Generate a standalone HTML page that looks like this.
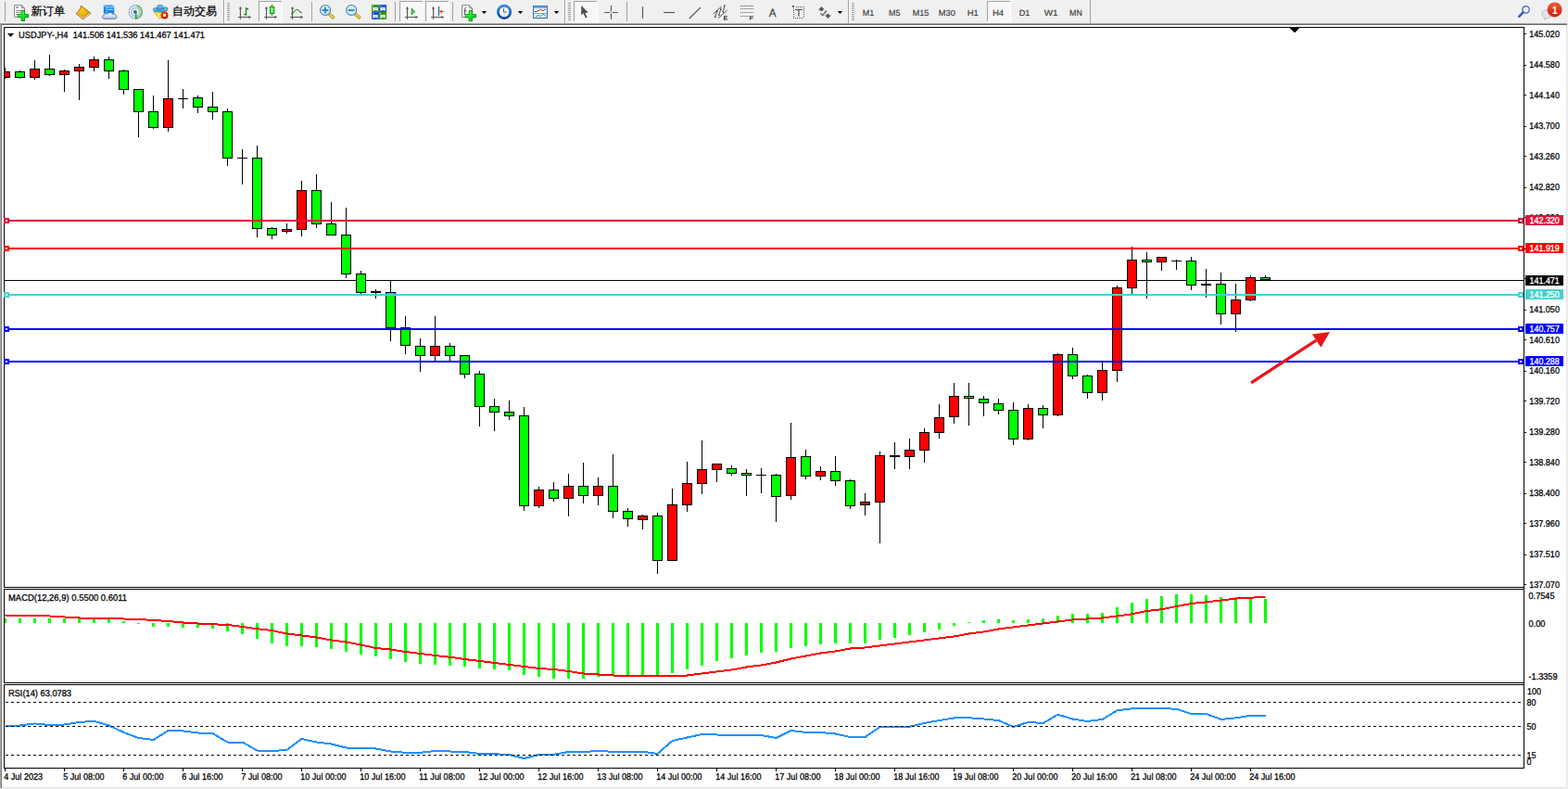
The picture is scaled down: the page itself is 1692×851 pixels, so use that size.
<!DOCTYPE html>
<html><head><meta charset="utf-8"><title>USDJPY-,H4</title>
<style>
html,body{margin:0;padding:0;width:1692px;height:851px;overflow:hidden;background:#f0f0f0;font-family:"Liberation Sans",sans-serif}
svg{position:absolute;left:0;top:0;display:block}
text{font-family:"Liberation Sans",sans-serif;text-rendering:geometricPrecision}
</style></head><body>
<svg width="1692" height="851" viewBox="0 0 1692 851">
<g shape-rendering="crispEdges"><rect x="0" y="0" width="1692" height="851" fill="#f0f0f0"/><rect x="0" y="25" width="1691" height="1" fill="#a0a0a0"/><rect x="0" y="26" width="1691" height="1" fill="#696969"/><rect x="2" y="27" width="1688" height="822" fill="#ffffff"/><rect x="0" y="26" width="1" height="824" fill="#a8a8a8"/><rect x="1" y="26" width="1" height="824" fill="#7c7c7c"/><rect x="1690" y="27" width="1" height="823" fill="#e3e3e3"/><rect x="2" y="849" width="1689" height="1" fill="#e3e3e3"/><rect x="4" y="29" width="1641" height="1" fill="#000000"/><rect x="4" y="29" width="1" height="605" fill="#000000"/><rect x="4" y="633" width="1641" height="1" fill="#000000"/><rect x="4" y="635" width="1641" height="1" fill="#000000"/><rect x="4" y="635" width="1" height="102" fill="#000000"/><rect x="4" y="736" width="1641" height="1" fill="#000000"/><rect x="4" y="738" width="1641" height="1" fill="#000000"/><rect x="4" y="738" width="1" height="91" fill="#000000"/><rect x="4" y="828" width="1641" height="1" fill="#000000"/><rect x="1644" y="29" width="1" height="800" fill="#000000"/><rect x="5" y="302" width="1639" height="1" fill="#000000"/><rect x="5" y="73" width="1" height="12" fill="#000000"/><rect x="5" y="77" width="6" height="7" fill="#000000"/><rect x="5" y="78" width="5" height="5" fill="#ff0000"/><rect x="21" y="76" width="1" height="9" fill="#000000"/><rect x="16" y="77" width="11" height="7" fill="#000000"/><rect x="17" y="78" width="9" height="5" fill="#00ff00"/><rect x="37" y="65" width="1" height="21" fill="#000000"/><rect x="32" y="74" width="11" height="10" fill="#000000"/><rect x="33" y="75" width="9" height="8" fill="#ff0000"/><rect x="53" y="59" width="1" height="23" fill="#000000"/><rect x="48" y="74" width="11" height="7" fill="#000000"/><rect x="49" y="75" width="9" height="5" fill="#00ff00"/><rect x="69" y="75" width="1" height="24" fill="#000000"/><rect x="64" y="76" width="11" height="5" fill="#000000"/><rect x="65" y="77" width="9" height="3" fill="#ff0000"/><rect x="85" y="69" width="1" height="39" fill="#000000"/><rect x="80" y="72" width="11" height="5" fill="#000000"/><rect x="81" y="73" width="9" height="3" fill="#ff0000"/><rect x="101" y="61" width="1" height="16" fill="#000000"/><rect x="96" y="64" width="11" height="9" fill="#000000"/><rect x="97" y="65" width="9" height="7" fill="#ff0000"/><rect x="117" y="61" width="1" height="24" fill="#000000"/><rect x="112" y="64" width="11" height="13" fill="#000000"/><rect x="113" y="65" width="9" height="11" fill="#00ff00"/><rect x="133" y="75" width="1" height="27" fill="#000000"/><rect x="128" y="76" width="11" height="21" fill="#000000"/><rect x="129" y="77" width="9" height="19" fill="#00ff00"/><rect x="149" y="96" width="1" height="52" fill="#000000"/><rect x="144" y="96" width="11" height="25" fill="#000000"/><rect x="145" y="97" width="9" height="23" fill="#00ff00"/><rect x="165" y="103" width="1" height="36" fill="#000000"/><rect x="160" y="120" width="11" height="18" fill="#000000"/><rect x="161" y="121" width="9" height="16" fill="#00ff00"/><rect x="181" y="65" width="1" height="77" fill="#000000"/><rect x="176" y="106" width="11" height="32" fill="#000000"/><rect x="177" y="107" width="9" height="30" fill="#ff0000"/><rect x="197" y="96" width="1" height="21" fill="#000000"/><rect x="192" y="106" width="11" height="1" fill="#000000"/><rect x="213" y="103" width="1" height="19" fill="#000000"/><rect x="208" y="105" width="11" height="11" fill="#000000"/><rect x="209" y="106" width="9" height="9" fill="#00ff00"/><rect x="229" y="99" width="1" height="30" fill="#000000"/><rect x="224" y="115" width="11" height="6" fill="#000000"/><rect x="225" y="116" width="9" height="4" fill="#00ff00"/><rect x="245" y="117" width="1" height="62" fill="#000000"/><rect x="240" y="120" width="11" height="51" fill="#000000"/><rect x="241" y="121" width="9" height="49" fill="#00ff00"/><rect x="261" y="161" width="1" height="38" fill="#000000"/><rect x="256" y="170" width="11" height="1" fill="#000000"/><rect x="277" y="157" width="1" height="99" fill="#000000"/><rect x="272" y="170" width="11" height="77" fill="#000000"/><rect x="273" y="171" width="9" height="75" fill="#00ff00"/><rect x="293" y="245" width="1" height="13" fill="#000000"/><rect x="288" y="246" width="11" height="8" fill="#000000"/><rect x="289" y="247" width="9" height="6" fill="#00ff00"/><rect x="309" y="241" width="1" height="11" fill="#000000"/><rect x="304" y="247" width="11" height="3" fill="#000000"/><rect x="305" y="248" width="9" height="1" fill="#ff0000"/><rect x="325" y="195" width="1" height="60" fill="#000000"/><rect x="320" y="205" width="11" height="43" fill="#000000"/><rect x="321" y="206" width="9" height="41" fill="#ff0000"/><rect x="341" y="188" width="1" height="58" fill="#000000"/><rect x="336" y="205" width="11" height="37" fill="#000000"/><rect x="337" y="206" width="9" height="35" fill="#00ff00"/><rect x="357" y="218" width="1" height="36" fill="#000000"/><rect x="352" y="241" width="11" height="13" fill="#000000"/><rect x="353" y="242" width="9" height="11" fill="#00ff00"/><rect x="373" y="224" width="1" height="76" fill="#000000"/><rect x="368" y="253" width="11" height="43" fill="#000000"/><rect x="369" y="254" width="9" height="41" fill="#00ff00"/><rect x="389" y="292" width="1" height="25" fill="#000000"/><rect x="384" y="295" width="11" height="21" fill="#000000"/><rect x="385" y="296" width="9" height="19" fill="#00ff00"/><rect x="405" y="312" width="1" height="10" fill="#000000"/><rect x="400" y="314" width="11" height="2" fill="#000000"/><rect x="421" y="302" width="1" height="66" fill="#000000"/><rect x="416" y="315" width="11" height="39" fill="#000000"/><rect x="417" y="316" width="9" height="37" fill="#00ff00"/><rect x="437" y="341" width="1" height="41" fill="#000000"/><rect x="432" y="353" width="11" height="20" fill="#000000"/><rect x="433" y="354" width="9" height="18" fill="#00ff00"/><rect x="453" y="365" width="1" height="36" fill="#000000"/><rect x="448" y="373" width="11" height="11" fill="#000000"/><rect x="449" y="374" width="9" height="9" fill="#00ff00"/><rect x="469" y="341" width="1" height="48" fill="#000000"/><rect x="464" y="373" width="11" height="11" fill="#000000"/><rect x="465" y="374" width="9" height="9" fill="#ff0000"/><rect x="485" y="370" width="1" height="19" fill="#000000"/><rect x="480" y="373" width="11" height="11" fill="#000000"/><rect x="481" y="374" width="9" height="9" fill="#00ff00"/><rect x="501" y="383" width="1" height="25" fill="#000000"/><rect x="496" y="383" width="11" height="21" fill="#000000"/><rect x="497" y="384" width="9" height="19" fill="#00ff00"/><rect x="517" y="400" width="1" height="60" fill="#000000"/><rect x="512" y="403" width="11" height="36" fill="#000000"/><rect x="513" y="404" width="9" height="34" fill="#00ff00"/><rect x="533" y="430" width="1" height="35" fill="#000000"/><rect x="528" y="438" width="11" height="7" fill="#000000"/><rect x="529" y="439" width="9" height="5" fill="#00ff00"/><rect x="549" y="432" width="1" height="21" fill="#000000"/><rect x="544" y="444" width="11" height="5" fill="#000000"/><rect x="545" y="445" width="9" height="3" fill="#00ff00"/><rect x="565" y="439" width="1" height="112" fill="#000000"/><rect x="560" y="448" width="11" height="98" fill="#000000"/><rect x="561" y="449" width="9" height="96" fill="#00ff00"/><rect x="581" y="525" width="1" height="23" fill="#000000"/><rect x="576" y="528" width="11" height="18" fill="#000000"/><rect x="577" y="529" width="9" height="16" fill="#ff0000"/><rect x="597" y="520" width="1" height="21" fill="#000000"/><rect x="592" y="528" width="11" height="10" fill="#000000"/><rect x="593" y="529" width="9" height="8" fill="#00ff00"/><rect x="613" y="511" width="1" height="46" fill="#000000"/><rect x="608" y="524" width="11" height="14" fill="#000000"/><rect x="609" y="525" width="9" height="12" fill="#ff0000"/><rect x="629" y="499" width="1" height="44" fill="#000000"/><rect x="624" y="524" width="11" height="11" fill="#000000"/><rect x="625" y="525" width="9" height="9" fill="#00ff00"/><rect x="645" y="515" width="1" height="30" fill="#000000"/><rect x="640" y="524" width="11" height="11" fill="#000000"/><rect x="641" y="525" width="9" height="9" fill="#ff0000"/><rect x="661" y="490" width="1" height="69" fill="#000000"/><rect x="656" y="524" width="11" height="28" fill="#000000"/><rect x="657" y="525" width="9" height="26" fill="#00ff00"/><rect x="677" y="548" width="1" height="20" fill="#000000"/><rect x="672" y="551" width="11" height="9" fill="#000000"/><rect x="673" y="552" width="9" height="7" fill="#00ff00"/><rect x="693" y="555" width="1" height="16" fill="#000000"/><rect x="688" y="556" width="11" height="5" fill="#000000"/><rect x="689" y="557" width="9" height="3" fill="#ff0000"/><rect x="709" y="553" width="1" height="66" fill="#000000"/><rect x="704" y="556" width="11" height="49" fill="#000000"/><rect x="705" y="557" width="9" height="47" fill="#00ff00"/><rect x="725" y="527" width="1" height="78" fill="#000000"/><rect x="720" y="544" width="11" height="61" fill="#000000"/><rect x="721" y="545" width="9" height="59" fill="#ff0000"/><rect x="741" y="498" width="1" height="54" fill="#000000"/><rect x="736" y="521" width="11" height="24" fill="#000000"/><rect x="737" y="522" width="9" height="22" fill="#ff0000"/><rect x="757" y="475" width="1" height="58" fill="#000000"/><rect x="752" y="506" width="11" height="16" fill="#000000"/><rect x="753" y="507" width="9" height="14" fill="#ff0000"/><rect x="773" y="500" width="1" height="20" fill="#000000"/><rect x="768" y="500" width="11" height="7" fill="#000000"/><rect x="769" y="501" width="9" height="5" fill="#ff0000"/><rect x="789" y="502" width="1" height="11" fill="#000000"/><rect x="784" y="505" width="11" height="6" fill="#000000"/><rect x="785" y="506" width="9" height="4" fill="#00ff00"/><rect x="805" y="506" width="1" height="29" fill="#000000"/><rect x="800" y="510" width="11" height="3" fill="#000000"/><rect x="801" y="511" width="9" height="1" fill="#00ff00"/><rect x="821" y="505" width="1" height="27" fill="#000000"/><rect x="816" y="512" width="11" height="1" fill="#000000"/><rect x="837" y="511" width="1" height="52" fill="#000000"/><rect x="832" y="512" width="11" height="24" fill="#000000"/><rect x="833" y="513" width="9" height="22" fill="#00ff00"/><rect x="853" y="456" width="1" height="83" fill="#000000"/><rect x="848" y="493" width="11" height="42" fill="#000000"/><rect x="849" y="494" width="9" height="40" fill="#ff0000"/><rect x="869" y="485" width="1" height="32" fill="#000000"/><rect x="864" y="492" width="11" height="22" fill="#000000"/><rect x="865" y="493" width="9" height="20" fill="#00ff00"/><rect x="885" y="503" width="1" height="15" fill="#000000"/><rect x="880" y="508" width="11" height="6" fill="#000000"/><rect x="881" y="509" width="9" height="4" fill="#ff0000"/><rect x="901" y="492" width="1" height="32" fill="#000000"/><rect x="896" y="508" width="11" height="11" fill="#000000"/><rect x="897" y="509" width="9" height="9" fill="#00ff00"/><rect x="917" y="517" width="1" height="32" fill="#000000"/><rect x="912" y="518" width="11" height="28" fill="#000000"/><rect x="913" y="519" width="9" height="26" fill="#00ff00"/><rect x="933" y="532" width="1" height="24" fill="#000000"/><rect x="928" y="541" width="11" height="4" fill="#000000"/><rect x="929" y="542" width="9" height="2" fill="#ff0000"/><rect x="949" y="487" width="1" height="99" fill="#000000"/><rect x="944" y="491" width="11" height="51" fill="#000000"/><rect x="945" y="492" width="9" height="49" fill="#ff0000"/><rect x="965" y="477" width="1" height="29" fill="#000000"/><rect x="960" y="491" width="11" height="2" fill="#000000"/><rect x="981" y="473" width="1" height="33" fill="#000000"/><rect x="976" y="485" width="11" height="8" fill="#000000"/><rect x="977" y="486" width="9" height="6" fill="#ff0000"/><rect x="997" y="462" width="1" height="37" fill="#000000"/><rect x="992" y="466" width="11" height="20" fill="#000000"/><rect x="993" y="467" width="9" height="18" fill="#ff0000"/><rect x="1013" y="436" width="1" height="37" fill="#000000"/><rect x="1008" y="450" width="11" height="17" fill="#000000"/><rect x="1009" y="451" width="9" height="15" fill="#ff0000"/><rect x="1029" y="413" width="1" height="44" fill="#000000"/><rect x="1024" y="427" width="11" height="23" fill="#000000"/><rect x="1025" y="428" width="9" height="21" fill="#ff0000"/><rect x="1045" y="413" width="1" height="46" fill="#000000"/><rect x="1040" y="427" width="11" height="3" fill="#000000"/><rect x="1041" y="428" width="9" height="1" fill="#00ff00"/><rect x="1061" y="427" width="1" height="22" fill="#000000"/><rect x="1056" y="430" width="11" height="5" fill="#000000"/><rect x="1057" y="431" width="9" height="3" fill="#00ff00"/><rect x="1077" y="430" width="1" height="17" fill="#000000"/><rect x="1072" y="435" width="11" height="8" fill="#000000"/><rect x="1073" y="436" width="9" height="6" fill="#00ff00"/><rect x="1093" y="434" width="1" height="46" fill="#000000"/><rect x="1088" y="442" width="11" height="32" fill="#000000"/><rect x="1089" y="443" width="9" height="30" fill="#00ff00"/><rect x="1109" y="436" width="1" height="39" fill="#000000"/><rect x="1104" y="440" width="11" height="34" fill="#000000"/><rect x="1105" y="441" width="9" height="32" fill="#ff0000"/><rect x="1125" y="437" width="1" height="25" fill="#000000"/><rect x="1120" y="440" width="11" height="8" fill="#000000"/><rect x="1121" y="441" width="9" height="6" fill="#00ff00"/><rect x="1141" y="381" width="1" height="68" fill="#000000"/><rect x="1136" y="382" width="11" height="66" fill="#000000"/><rect x="1137" y="383" width="9" height="64" fill="#ff0000"/><rect x="1157" y="375" width="1" height="34" fill="#000000"/><rect x="1152" y="382" width="11" height="24" fill="#000000"/><rect x="1153" y="383" width="9" height="22" fill="#00ff00"/><rect x="1173" y="404" width="1" height="26" fill="#000000"/><rect x="1168" y="405" width="11" height="19" fill="#000000"/><rect x="1169" y="406" width="9" height="17" fill="#00ff00"/><rect x="1189" y="391" width="1" height="41" fill="#000000"/><rect x="1184" y="399" width="11" height="25" fill="#000000"/><rect x="1185" y="400" width="9" height="23" fill="#ff0000"/><rect x="1205" y="308" width="1" height="104" fill="#000000"/><rect x="1200" y="310" width="11" height="90" fill="#000000"/><rect x="1201" y="311" width="9" height="88" fill="#ff0000"/><rect x="1221" y="266" width="1" height="51" fill="#000000"/><rect x="1216" y="280" width="11" height="31" fill="#000000"/><rect x="1217" y="281" width="9" height="29" fill="#ff0000"/><rect x="1237" y="272" width="1" height="50" fill="#000000"/><rect x="1232" y="280" width="11" height="3" fill="#000000"/><rect x="1233" y="281" width="9" height="1" fill="#00ff00"/><rect x="1253" y="277" width="1" height="15" fill="#000000"/><rect x="1248" y="277" width="11" height="6" fill="#000000"/><rect x="1249" y="278" width="9" height="4" fill="#ff0000"/><rect x="1269" y="280" width="1" height="11" fill="#000000"/><rect x="1264" y="281" width="11" height="1" fill="#000000"/><rect x="1285" y="277" width="1" height="36" fill="#000000"/><rect x="1280" y="281" width="11" height="27" fill="#000000"/><rect x="1281" y="282" width="9" height="25" fill="#00ff00"/><rect x="1301" y="290" width="1" height="31" fill="#000000"/><rect x="1296" y="306" width="11" height="2" fill="#000000"/><rect x="1317" y="294" width="1" height="56" fill="#000000"/><rect x="1312" y="306" width="11" height="33" fill="#000000"/><rect x="1313" y="307" width="9" height="31" fill="#00ff00"/><rect x="1333" y="306" width="1" height="52" fill="#000000"/><rect x="1328" y="323" width="11" height="16" fill="#000000"/><rect x="1329" y="324" width="9" height="14" fill="#ff0000"/><rect x="1349" y="297" width="1" height="28" fill="#000000"/><rect x="1344" y="299" width="11" height="25" fill="#000000"/><rect x="1345" y="300" width="9" height="23" fill="#ff0000"/><rect x="1365" y="297" width="1" height="5" fill="#000000"/><rect x="1360" y="299" width="11" height="3" fill="#000000"/><rect x="1361" y="300" width="9" height="1" fill="#00ff00"/><rect x="5" y="237" width="1639" height="2" fill="#dc143c"/><rect x="4" y="235" width="6" height="6" fill="#dc143c"/><rect x="6" y="237" width="2" height="2" fill="#ffffff"/><rect x="1638" y="235" width="6" height="6" fill="#dc143c"/><rect x="1640" y="237" width="2" height="2" fill="#ffffff"/><rect x="5" y="267" width="1639" height="2" fill="#ff0000"/><rect x="4" y="265" width="6" height="6" fill="#ff0000"/><rect x="6" y="267" width="2" height="2" fill="#ffffff"/><rect x="1638" y="265" width="6" height="6" fill="#ff0000"/><rect x="1640" y="267" width="2" height="2" fill="#ffffff"/><rect x="5" y="317" width="1639" height="2" fill="#48d1cc"/><rect x="4" y="315" width="6" height="6" fill="#48d1cc"/><rect x="6" y="317" width="2" height="2" fill="#ffffff"/><rect x="1638" y="315" width="6" height="6" fill="#48d1cc"/><rect x="1640" y="317" width="2" height="2" fill="#ffffff"/><rect x="5" y="354" width="1639" height="2" fill="#0000ff"/><rect x="4" y="352" width="6" height="6" fill="#0000ff"/><rect x="6" y="354" width="2" height="2" fill="#ffffff"/><rect x="1638" y="352" width="6" height="6" fill="#0000ff"/><rect x="1640" y="354" width="2" height="2" fill="#ffffff"/><rect x="5" y="389" width="1639" height="2" fill="#0000ff"/><rect x="4" y="387" width="6" height="6" fill="#0000ff"/><rect x="6" y="389" width="2" height="2" fill="#ffffff"/><rect x="1638" y="387" width="6" height="6" fill="#0000ff"/><rect x="1640" y="389" width="2" height="2" fill="#ffffff"/><rect x="5" y="667" width="2" height="5" fill="#00ff00"/><rect x="20" y="667" width="3" height="5" fill="#00ff00"/><rect x="36" y="667" width="3" height="5" fill="#00ff00"/><rect x="52" y="667" width="3" height="5" fill="#00ff00"/><rect x="68" y="667" width="3" height="5" fill="#00ff00"/><rect x="84" y="667" width="3" height="5" fill="#00ff00"/><rect x="100" y="667" width="3" height="5" fill="#00ff00"/><rect x="116" y="667" width="3" height="5" fill="#00ff00"/><rect x="132" y="670" width="3" height="2" fill="#00ff00"/><rect x="148" y="672" width="3" height="1" fill="#00ff00"/><rect x="164" y="672" width="3" height="4" fill="#00ff00"/><rect x="180" y="672" width="3" height="4" fill="#00ff00"/><rect x="196" y="672" width="3" height="5" fill="#00ff00"/><rect x="212" y="672" width="3" height="5" fill="#00ff00"/><rect x="228" y="672" width="3" height="6" fill="#00ff00"/><rect x="244" y="672" width="3" height="9" fill="#00ff00"/><rect x="260" y="672" width="3" height="12" fill="#00ff00"/><rect x="276" y="672" width="3" height="17" fill="#00ff00"/><rect x="292" y="672" width="3" height="22" fill="#00ff00"/><rect x="308" y="672" width="3" height="25" fill="#00ff00"/><rect x="324" y="672" width="3" height="25" fill="#00ff00"/><rect x="340" y="672" width="3" height="26" fill="#00ff00"/><rect x="356" y="672" width="3" height="28" fill="#00ff00"/><rect x="372" y="672" width="3" height="31" fill="#00ff00"/><rect x="388" y="672" width="3" height="34" fill="#00ff00"/><rect x="404" y="672" width="3" height="36" fill="#00ff00"/><rect x="420" y="672" width="3" height="39" fill="#00ff00"/><rect x="436" y="672" width="3" height="42" fill="#00ff00"/><rect x="452" y="672" width="3" height="44" fill="#00ff00"/><rect x="468" y="672" width="3" height="45" fill="#00ff00"/><rect x="484" y="672" width="3" height="46" fill="#00ff00"/><rect x="500" y="672" width="3" height="47" fill="#00ff00"/><rect x="516" y="672" width="3" height="49" fill="#00ff00"/><rect x="532" y="672" width="3" height="50" fill="#00ff00"/><rect x="548" y="672" width="3" height="51" fill="#00ff00"/><rect x="564" y="672" width="3" height="56" fill="#00ff00"/><rect x="580" y="672" width="3" height="58" fill="#00ff00"/><rect x="596" y="672" width="3" height="60" fill="#00ff00"/><rect x="612" y="672" width="3" height="60" fill="#00ff00"/><rect x="628" y="672" width="3" height="60" fill="#00ff00"/><rect x="644" y="672" width="3" height="58" fill="#00ff00"/><rect x="660" y="672" width="3" height="57" fill="#00ff00"/><rect x="676" y="672" width="3" height="56" fill="#00ff00"/><rect x="692" y="672" width="3" height="56" fill="#00ff00"/><rect x="708" y="672" width="3" height="56" fill="#00ff00"/><rect x="724" y="672" width="3" height="54" fill="#00ff00"/><rect x="740" y="672" width="3" height="50" fill="#00ff00"/><rect x="756" y="672" width="3" height="46" fill="#00ff00"/><rect x="772" y="672" width="3" height="41" fill="#00ff00"/><rect x="788" y="672" width="3" height="38" fill="#00ff00"/><rect x="804" y="672" width="3" height="35" fill="#00ff00"/><rect x="820" y="672" width="3" height="32" fill="#00ff00"/><rect x="836" y="672" width="3" height="31" fill="#00ff00"/><rect x="852" y="672" width="3" height="27" fill="#00ff00"/><rect x="868" y="672" width="3" height="25" fill="#00ff00"/><rect x="884" y="672" width="3" height="23" fill="#00ff00"/><rect x="900" y="672" width="3" height="22" fill="#00ff00"/><rect x="916" y="672" width="3" height="22" fill="#00ff00"/><rect x="932" y="672" width="3" height="22" fill="#00ff00"/><rect x="948" y="672" width="3" height="18" fill="#00ff00"/><rect x="964" y="672" width="3" height="16" fill="#00ff00"/><rect x="980" y="672" width="3" height="13" fill="#00ff00"/><rect x="996" y="672" width="3" height="10" fill="#00ff00"/><rect x="1012" y="672" width="3" height="7" fill="#00ff00"/><rect x="1028" y="672" width="3" height="3" fill="#00ff00"/><rect x="1044" y="671" width="3" height="1" fill="#00ff00"/><rect x="1060" y="669" width="3" height="3" fill="#00ff00"/><rect x="1076" y="668" width="3" height="4" fill="#00ff00"/><rect x="1092" y="669" width="3" height="3" fill="#00ff00"/><rect x="1108" y="668" width="3" height="4" fill="#00ff00"/><rect x="1124" y="667" width="3" height="5" fill="#00ff00"/><rect x="1140" y="664" width="3" height="8" fill="#00ff00"/><rect x="1156" y="662" width="3" height="10" fill="#00ff00"/><rect x="1172" y="662" width="3" height="10" fill="#00ff00"/><rect x="1188" y="661" width="3" height="11" fill="#00ff00"/><rect x="1204" y="655" width="3" height="17" fill="#00ff00"/><rect x="1220" y="650" width="3" height="22" fill="#00ff00"/><rect x="1236" y="646" width="3" height="26" fill="#00ff00"/><rect x="1252" y="643" width="3" height="29" fill="#00ff00"/><rect x="1268" y="641" width="3" height="31" fill="#00ff00"/><rect x="1284" y="641" width="3" height="31" fill="#00ff00"/><rect x="1300" y="642" width="3" height="30" fill="#00ff00"/><rect x="1316" y="644" width="3" height="28" fill="#00ff00"/><rect x="1332" y="644" width="3" height="28" fill="#00ff00"/><rect x="1348" y="644" width="3" height="28" fill="#00ff00"/><rect x="1364" y="646" width="3" height="26" fill="#00ff00"/></g><polyline points="5.5,663.5 21.5,664 37.5,664.25 53.5,664.5 69.5,665.5 85.5,666.5 101.5,666.75 117.5,667 133.5,667.5 149.5,668 165.5,669 181.5,670 197.5,671.5 213.5,672.5 229.5,673.25 245.5,674 261.5,676 277.5,678.25 293.5,680 309.5,683.5 325.5,685.5 341.5,687.5 357.5,690.5 373.5,692.5 389.5,695.5 405.5,699 421.5,700.5 437.5,703 453.5,705 469.5,707 485.5,708.75 501.5,711 517.5,713 533.5,715 549.5,717 565.5,719 581.5,721 597.5,722 613.5,724 629.5,726.5 645.5,727.5 661.5,728.5 677.5,728.5 693.5,728.5 709.5,728.5 725.5,728.5 741.5,728.5 757.5,726.5 773.5,724.5 789.5,722.5 805.5,719.5 821.5,717.5 837.5,714.5 853.5,710.5 869.5,707.5 885.5,704.5 901.5,702.5 917.5,699.5 933.5,698.5 949.5,696.5 965.5,694.5 981.5,692.5 997.5,690.5 1013.5,688.5 1029.5,686.5 1045.5,683.5 1061.5,681.5 1077.5,678.5 1093.5,676.5 1109.5,674.5 1125.5,672.5 1141.5,670.5 1157.5,668.5 1173.5,667.5 1189.5,666.5 1205.5,664.5 1221.5,662.3 1237.5,659 1253.5,657.2 1269.5,654 1285.5,651 1301.5,649.4 1317.5,647.6 1333.5,645.6 1349.5,644.7 1365.5,643.8" fill="none" stroke="#ff0000" stroke-width="2" stroke-linejoin="round" shape-rendering="crispEdges"/><polyline points="5.5,782.5 21.5,782.5 37.5,780.5 53.5,782 69.5,781.5 85.5,779 101.5,777.75 117.5,782.5 133.5,790 149.5,796 165.5,798 181.5,788 197.5,788.5 213.5,790.5 229.5,791 245.5,800.5 261.5,800.5 277.5,809.5 293.5,810 309.5,809 325.5,797 341.5,800.5 357.5,802.5 373.5,806.5 389.5,806.75 405.5,807.5 421.5,810.5 437.5,811.75 453.5,811.75 469.5,810 485.5,810.5 501.5,811 517.5,813 533.5,813.25 549.5,814 565.5,818 581.5,814 597.5,813.75 613.5,811 629.5,811 645.5,810 661.5,810.75 677.5,810.75 693.5,810.75 709.5,813 725.5,799 741.5,795.5 757.5,792 773.5,792.5 789.5,793 805.5,793 821.5,793 837.5,796 853.5,788 869.5,790 885.5,790 901.5,791.5 917.5,795 933.5,795 949.5,784 965.5,784 981.5,783.75 997.5,780 1013.5,777 1029.5,774.5 1045.5,774.25 1061.5,775.5 1077.5,777 1093.5,784 1109.5,779 1125.5,780 1141.5,770.75 1157.5,775.5 1173.5,778 1189.5,776 1205.5,766.25 1221.5,764.3 1237.5,764 1253.5,764 1269.5,764.8 1285.5,770 1301.5,770 1317.5,775.9 1333.5,774.4 1349.5,771.8 1365.5,771.8" fill="none" stroke="#1e90ff" stroke-width="2" stroke-linejoin="round" shape-rendering="crispEdges"/><line x1="6" y1="757.5" x2="1644" y2="757.5" stroke="#000" stroke-width="1" stroke-dasharray="3 3" shape-rendering="crispEdges"/><line x1="6" y1="783.5" x2="1644" y2="783.5" stroke="#000" stroke-width="1" stroke-dasharray="3 3" shape-rendering="crispEdges"/><line x1="6" y1="814.5" x2="1644" y2="814.5" stroke="#000" stroke-width="1" stroke-dasharray="3 3" shape-rendering="crispEdges"/><g fill="#e8151d" stroke="none"><polygon points="1349.2,411.5 1351,414.3 1421.2,368.6 1419.4,365.8"/><polygon points="1435.1,358 1416,360.4 1425.4,374.8"/></g><g shape-rendering="crispEdges"><rect x="1645" y="36" width="2" height="1" fill="#000"/><rect x="1645" y="70" width="2" height="1" fill="#000"/><rect x="1645" y="102" width="2" height="1" fill="#000"/><rect x="1645" y="136" width="2" height="1" fill="#000"/><rect x="1645" y="168" width="2" height="1" fill="#000"/><rect x="1645" y="202" width="2" height="1" fill="#000"/><rect x="1645" y="234" width="2" height="1" fill="#000"/><rect x="1645" y="268" width="2" height="1" fill="#000"/><rect x="1645" y="300" width="2" height="1" fill="#000"/><rect x="1645" y="334" width="2" height="1" fill="#000"/><rect x="1645" y="366" width="2" height="1" fill="#000"/><rect x="1645" y="400" width="2" height="1" fill="#000"/><rect x="1645" y="432" width="2" height="1" fill="#000"/><rect x="1645" y="466" width="2" height="1" fill="#000"/><rect x="1645" y="498" width="2" height="1" fill="#000"/><rect x="1645" y="532" width="2" height="1" fill="#000"/><rect x="1645" y="564" width="2" height="1" fill="#000"/><rect x="1645" y="598" width="2" height="1" fill="#000"/><rect x="1645" y="630" width="2" height="1" fill="#000"/></g><text x="1650.3" y="40.2" font-family="Liberation Sans, sans-serif" font-size="9.9" fill="#000" stroke="#000" stroke-width="0.28" text-anchor="start" textLength="32.6" lengthAdjust="spacingAndGlyphs">145.020</text><text x="1650.3" y="73.2" font-family="Liberation Sans, sans-serif" font-size="9.9" fill="#000" stroke="#000" stroke-width="0.28" text-anchor="start" textLength="32.6" lengthAdjust="spacingAndGlyphs">144.580</text><text x="1650.3" y="106.2" font-family="Liberation Sans, sans-serif" font-size="9.9" fill="#000" stroke="#000" stroke-width="0.28" text-anchor="start" textLength="32.6" lengthAdjust="spacingAndGlyphs">144.140</text><text x="1650.3" y="139.2" font-family="Liberation Sans, sans-serif" font-size="9.9" fill="#000" stroke="#000" stroke-width="0.28" text-anchor="start" textLength="32.6" lengthAdjust="spacingAndGlyphs">143.700</text><text x="1650.3" y="172.2" font-family="Liberation Sans, sans-serif" font-size="9.9" fill="#000" stroke="#000" stroke-width="0.28" text-anchor="start" textLength="32.6" lengthAdjust="spacingAndGlyphs">143.260</text><text x="1650.3" y="205.2" font-family="Liberation Sans, sans-serif" font-size="9.9" fill="#000" stroke="#000" stroke-width="0.28" text-anchor="start" textLength="32.6" lengthAdjust="spacingAndGlyphs">142.820</text><text x="1650.3" y="238.2" font-family="Liberation Sans, sans-serif" font-size="9.9" fill="#000" stroke="#000" stroke-width="0.28" text-anchor="start" textLength="32.6" lengthAdjust="spacingAndGlyphs">142.380</text><text x="1650.3" y="271.2" font-family="Liberation Sans, sans-serif" font-size="9.9" fill="#000" stroke="#000" stroke-width="0.28" text-anchor="start" textLength="32.6" lengthAdjust="spacingAndGlyphs">141.940</text><text x="1650.3" y="304.2" font-family="Liberation Sans, sans-serif" font-size="9.9" fill="#000" stroke="#000" stroke-width="0.28" text-anchor="start" textLength="32.6" lengthAdjust="spacingAndGlyphs">141.500</text><text x="1650.3" y="337.2" font-family="Liberation Sans, sans-serif" font-size="9.9" fill="#000" stroke="#000" stroke-width="0.28" text-anchor="start" textLength="32.6" lengthAdjust="spacingAndGlyphs">141.050</text><text x="1650.3" y="370.2" font-family="Liberation Sans, sans-serif" font-size="9.9" fill="#000" stroke="#000" stroke-width="0.28" text-anchor="start" textLength="32.6" lengthAdjust="spacingAndGlyphs">140.610</text><text x="1650.3" y="403.2" font-family="Liberation Sans, sans-serif" font-size="9.9" fill="#000" stroke="#000" stroke-width="0.28" text-anchor="start" textLength="32.6" lengthAdjust="spacingAndGlyphs">140.160</text><text x="1650.3" y="436.2" font-family="Liberation Sans, sans-serif" font-size="9.9" fill="#000" stroke="#000" stroke-width="0.28" text-anchor="start" textLength="32.6" lengthAdjust="spacingAndGlyphs">139.720</text><text x="1650.3" y="469.2" font-family="Liberation Sans, sans-serif" font-size="9.9" fill="#000" stroke="#000" stroke-width="0.28" text-anchor="start" textLength="32.6" lengthAdjust="spacingAndGlyphs">139.280</text><text x="1650.3" y="502.2" font-family="Liberation Sans, sans-serif" font-size="9.9" fill="#000" stroke="#000" stroke-width="0.28" text-anchor="start" textLength="32.6" lengthAdjust="spacingAndGlyphs">138.840</text><text x="1650.3" y="535.2" font-family="Liberation Sans, sans-serif" font-size="9.9" fill="#000" stroke="#000" stroke-width="0.28" text-anchor="start" textLength="32.6" lengthAdjust="spacingAndGlyphs">138.400</text><text x="1650.3" y="568.2" font-family="Liberation Sans, sans-serif" font-size="9.9" fill="#000" stroke="#000" stroke-width="0.28" text-anchor="start" textLength="32.6" lengthAdjust="spacingAndGlyphs">137.960</text><text x="1650.3" y="601.2" font-family="Liberation Sans, sans-serif" font-size="9.9" fill="#000" stroke="#000" stroke-width="0.28" text-anchor="start" textLength="32.6" lengthAdjust="spacingAndGlyphs">137.510</text><text x="1650.3" y="634.2" font-family="Liberation Sans, sans-serif" font-size="9.9" fill="#000" stroke="#000" stroke-width="0.28" text-anchor="start" textLength="32.6" lengthAdjust="spacingAndGlyphs">137.070</text><text x="1649.5" y="646.1" font-family="Liberation Sans, sans-serif" font-size="9.9" fill="#000" stroke="#000" stroke-width="0.28" text-anchor="start" textLength="28" lengthAdjust="spacingAndGlyphs">0.7545</text><text x="1649.5" y="676.0" font-family="Liberation Sans, sans-serif" font-size="9.9" fill="#000" stroke="#000" stroke-width="0.28" text-anchor="start" textLength="18" lengthAdjust="spacingAndGlyphs">0.00</text><text x="1649.5" y="733.4" font-family="Liberation Sans, sans-serif" font-size="9.9" fill="#000" stroke="#000" stroke-width="0.28" text-anchor="start" textLength="31" lengthAdjust="spacingAndGlyphs">-1.3359</text><text x="1648" y="749.0" font-family="Liberation Sans, sans-serif" font-size="9.9" fill="#000" stroke="#000" stroke-width="0.28" text-anchor="start" textLength="15" lengthAdjust="spacingAndGlyphs">100</text><text x="1647.5" y="760.8" font-family="Liberation Sans, sans-serif" font-size="9.9" fill="#000" stroke="#000" stroke-width="0.28" text-anchor="start" textLength="10" lengthAdjust="spacingAndGlyphs">80</text><text x="1647.5" y="786.8" font-family="Liberation Sans, sans-serif" font-size="9.9" fill="#000" stroke="#000" stroke-width="0.28" text-anchor="start" textLength="10" lengthAdjust="spacingAndGlyphs">50</text><text x="1647.5" y="817.6" font-family="Liberation Sans, sans-serif" font-size="9.9" fill="#000" stroke="#000" stroke-width="0.28" text-anchor="start" textLength="10" lengthAdjust="spacingAndGlyphs">15</text><text x="1647.5" y="824.6" font-family="Liberation Sans, sans-serif" font-size="9.9" fill="#000" stroke="#000" stroke-width="0.28" text-anchor="start" textLength="5" lengthAdjust="spacingAndGlyphs">0</text><g shape-rendering="crispEdges"><rect x="1646" y="232" width="41" height="11" fill="#dc143c"/><rect x="1646" y="262" width="41" height="11" fill="#ff0000"/><rect x="1646" y="297" width="41" height="11" fill="#000000"/><rect x="1646" y="312" width="41" height="11" fill="#48d1cc"/><rect x="1646" y="349" width="41" height="11" fill="#0000ff"/><rect x="1646" y="384" width="41" height="11" fill="#0000ff"/></g><text x="1650.5" y="241" font-family="Liberation Sans, sans-serif" font-size="9.9" fill="#fff" stroke="#fff" stroke-width="0.28" text-anchor="start" textLength="32.3" lengthAdjust="spacingAndGlyphs">142.320</text><text x="1650.5" y="271" font-family="Liberation Sans, sans-serif" font-size="9.9" fill="#fff" stroke="#fff" stroke-width="0.28" text-anchor="start" textLength="32.3" lengthAdjust="spacingAndGlyphs">141.919</text><text x="1650.5" y="306" font-family="Liberation Sans, sans-serif" font-size="9.9" fill="#fff" stroke="#fff" stroke-width="0.28" text-anchor="start" textLength="32.3" lengthAdjust="spacingAndGlyphs">141.471</text><text x="1650.5" y="321" font-family="Liberation Sans, sans-serif" font-size="9.9" fill="#fff" stroke="#fff" stroke-width="0.28" text-anchor="start" textLength="32.3" lengthAdjust="spacingAndGlyphs">141.250</text><text x="1650.5" y="358" font-family="Liberation Sans, sans-serif" font-size="9.9" fill="#fff" stroke="#fff" stroke-width="0.28" text-anchor="start" textLength="32.3" lengthAdjust="spacingAndGlyphs">140.757</text><text x="1650.5" y="393" font-family="Liberation Sans, sans-serif" font-size="9.9" fill="#fff" stroke="#fff" stroke-width="0.28" text-anchor="start" textLength="32.3" lengthAdjust="spacingAndGlyphs">140.288</text><polygon points="8,36 15,36 11.5,40" fill="#000"/><text x="20" y="41" font-family="Liberation Sans, sans-serif" font-size="9.9" fill="#000" stroke="#000" stroke-width="0.28" text-anchor="start" textLength="201" lengthAdjust="spacingAndGlyphs">USDJPY-,H4&#160; 141.506 141.536 141.467 141.471</text><text x="9" y="648" font-family="Liberation Sans, sans-serif" font-size="9.9" fill="#000" stroke="#000" stroke-width="0.28" text-anchor="start" textLength="128" lengthAdjust="spacingAndGlyphs">MACD(12,26,9) 0.5500 0.6011</text><text x="9" y="751" font-family="Liberation Sans, sans-serif" font-size="9.9" fill="#000" stroke="#000" stroke-width="0.28" text-anchor="start" textLength="68" lengthAdjust="spacingAndGlyphs">RSI(14) 63.0783</text><g shape-rendering="crispEdges"><rect x="5" y="829" width="1" height="3" fill="#000"/><rect x="69" y="829" width="1" height="3" fill="#000"/><rect x="133" y="829" width="1" height="3" fill="#000"/><rect x="197" y="829" width="1" height="3" fill="#000"/><rect x="261" y="829" width="1" height="3" fill="#000"/><rect x="325" y="829" width="1" height="3" fill="#000"/><rect x="389" y="829" width="1" height="3" fill="#000"/><rect x="453" y="829" width="1" height="3" fill="#000"/><rect x="517" y="829" width="1" height="3" fill="#000"/><rect x="581" y="829" width="1" height="3" fill="#000"/><rect x="645" y="829" width="1" height="3" fill="#000"/><rect x="709" y="829" width="1" height="3" fill="#000"/><rect x="773" y="829" width="1" height="3" fill="#000"/><rect x="837" y="829" width="1" height="3" fill="#000"/><rect x="901" y="829" width="1" height="3" fill="#000"/><rect x="965" y="829" width="1" height="3" fill="#000"/><rect x="1029" y="829" width="1" height="3" fill="#000"/><rect x="1093" y="829" width="1" height="3" fill="#000"/><rect x="1157" y="829" width="1" height="3" fill="#000"/><rect x="1221" y="829" width="1" height="3" fill="#000"/><rect x="1285" y="829" width="1" height="3" fill="#000"/><rect x="1349" y="829" width="1" height="3" fill="#000"/></g><text x="4.3" y="841" font-family="Liberation Sans, sans-serif" font-size="9.9" fill="#000" stroke="#000" stroke-width="0.28" text-anchor="start" textLength="41.7" lengthAdjust="spacingAndGlyphs">4 Jul 2023</text><text x="68.3" y="841" font-family="Liberation Sans, sans-serif" font-size="9.9" fill="#000" stroke="#000" stroke-width="0.28" text-anchor="start" textLength="44.2" lengthAdjust="spacingAndGlyphs">5 Jul 08:00</text><text x="132.3" y="841" font-family="Liberation Sans, sans-serif" font-size="9.9" fill="#000" stroke="#000" stroke-width="0.28" text-anchor="start" textLength="44.2" lengthAdjust="spacingAndGlyphs">6 Jul 00:00</text><text x="196.3" y="841" font-family="Liberation Sans, sans-serif" font-size="9.9" fill="#000" stroke="#000" stroke-width="0.28" text-anchor="start" textLength="44.2" lengthAdjust="spacingAndGlyphs">6 Jul 16:00</text><text x="260.3" y="841" font-family="Liberation Sans, sans-serif" font-size="9.9" fill="#000" stroke="#000" stroke-width="0.28" text-anchor="start" textLength="44.2" lengthAdjust="spacingAndGlyphs">7 Jul 08:00</text><text x="324.3" y="841" font-family="Liberation Sans, sans-serif" font-size="9.9" fill="#000" stroke="#000" stroke-width="0.28" text-anchor="start" textLength="49.2" lengthAdjust="spacingAndGlyphs">10 Jul 00:00</text><text x="388.3" y="841" font-family="Liberation Sans, sans-serif" font-size="9.9" fill="#000" stroke="#000" stroke-width="0.28" text-anchor="start" textLength="49.2" lengthAdjust="spacingAndGlyphs">10 Jul 16:00</text><text x="452.3" y="841" font-family="Liberation Sans, sans-serif" font-size="9.9" fill="#000" stroke="#000" stroke-width="0.28" text-anchor="start" textLength="49.2" lengthAdjust="spacingAndGlyphs">11 Jul 08:00</text><text x="516.3" y="841" font-family="Liberation Sans, sans-serif" font-size="9.9" fill="#000" stroke="#000" stroke-width="0.28" text-anchor="start" textLength="49.2" lengthAdjust="spacingAndGlyphs">12 Jul 00:00</text><text x="580.3" y="841" font-family="Liberation Sans, sans-serif" font-size="9.9" fill="#000" stroke="#000" stroke-width="0.28" text-anchor="start" textLength="49.2" lengthAdjust="spacingAndGlyphs">12 Jul 16:00</text><text x="644.3" y="841" font-family="Liberation Sans, sans-serif" font-size="9.9" fill="#000" stroke="#000" stroke-width="0.28" text-anchor="start" textLength="49.2" lengthAdjust="spacingAndGlyphs">13 Jul 08:00</text><text x="708.3" y="841" font-family="Liberation Sans, sans-serif" font-size="9.9" fill="#000" stroke="#000" stroke-width="0.28" text-anchor="start" textLength="49.2" lengthAdjust="spacingAndGlyphs">14 Jul 00:00</text><text x="772.3" y="841" font-family="Liberation Sans, sans-serif" font-size="9.9" fill="#000" stroke="#000" stroke-width="0.28" text-anchor="start" textLength="49.2" lengthAdjust="spacingAndGlyphs">14 Jul 16:00</text><text x="836.3" y="841" font-family="Liberation Sans, sans-serif" font-size="9.9" fill="#000" stroke="#000" stroke-width="0.28" text-anchor="start" textLength="49.2" lengthAdjust="spacingAndGlyphs">17 Jul 08:00</text><text x="900.3" y="841" font-family="Liberation Sans, sans-serif" font-size="9.9" fill="#000" stroke="#000" stroke-width="0.28" text-anchor="start" textLength="49.2" lengthAdjust="spacingAndGlyphs">18 Jul 00:00</text><text x="964.3" y="841" font-family="Liberation Sans, sans-serif" font-size="9.9" fill="#000" stroke="#000" stroke-width="0.28" text-anchor="start" textLength="49.2" lengthAdjust="spacingAndGlyphs">18 Jul 16:00</text><text x="1028.3" y="841" font-family="Liberation Sans, sans-serif" font-size="9.9" fill="#000" stroke="#000" stroke-width="0.28" text-anchor="start" textLength="49.2" lengthAdjust="spacingAndGlyphs">19 Jul 08:00</text><text x="1092.3" y="841" font-family="Liberation Sans, sans-serif" font-size="9.9" fill="#000" stroke="#000" stroke-width="0.28" text-anchor="start" textLength="49.2" lengthAdjust="spacingAndGlyphs">20 Jul 00:00</text><text x="1156.3" y="841" font-family="Liberation Sans, sans-serif" font-size="9.9" fill="#000" stroke="#000" stroke-width="0.28" text-anchor="start" textLength="49.2" lengthAdjust="spacingAndGlyphs">20 Jul 16:00</text><text x="1220.3" y="841" font-family="Liberation Sans, sans-serif" font-size="9.9" fill="#000" stroke="#000" stroke-width="0.28" text-anchor="start" textLength="49.2" lengthAdjust="spacingAndGlyphs">21 Jul 08:00</text><text x="1284.3" y="841" font-family="Liberation Sans, sans-serif" font-size="9.9" fill="#000" stroke="#000" stroke-width="0.28" text-anchor="start" textLength="49.2" lengthAdjust="spacingAndGlyphs">24 Jul 00:00</text><text x="1348.3" y="841" font-family="Liberation Sans, sans-serif" font-size="9.9" fill="#000" stroke="#000" stroke-width="0.28" text-anchor="start" textLength="49.2" lengthAdjust="spacingAndGlyphs">24 Jul 16:00</text><g shape-rendering="crispEdges"><rect x="1392" y="30" width="10" height="1" fill="#000"/><rect x="1393" y="31" width="8" height="1" fill="#000"/><rect x="1394" y="32" width="6" height="1" fill="#000"/><rect x="1395" y="33" width="4" height="1" fill="#000"/><rect x="1396" y="34" width="2" height="1" fill="#000"/></g>
<defs>
<pattern id="chk" width="2" height="2" patternUnits="userSpaceOnUse"><rect width="2" height="2" fill="#ffffff"/><rect width="1" height="1" fill="#f0f0f0"/><rect x="1" y="1" width="1" height="1" fill="#f0f0f0"/></pattern>
<linearGradient id="gplus" x1="0" y1="0" x2="1" y2="1"><stop offset="0" stop-color="#7dff7d"/><stop offset="0.5" stop-color="#08f020"/><stop offset="1" stop-color="#08b010"/></linearGradient>
<linearGradient id="gbook" x1="0" y1="0" x2="1" y2="1"><stop offset="0" stop-color="#f8d230"/><stop offset="0.5" stop-color="#f0c010"/><stop offset="1" stop-color="#d09a08"/></linearGradient>
<linearGradient id="gcloud" x1="0" y1="0" x2="0" y2="1"><stop offset="0" stop-color="#ffffff"/><stop offset="1" stop-color="#b8c4dc"/></linearGradient>
<linearGradient id="gbox" x1="0" y1="0" x2="0" y2="1"><stop offset="0" stop-color="#1a98ff"/><stop offset="1" stop-color="#0a80f0"/></linearGradient>
<linearGradient id="gcandle" x1="0" y1="0" x2="1" y2="0"><stop offset="0" stop-color="#30d830"/><stop offset="0.5" stop-color="#90ff90"/><stop offset="1" stop-color="#20c820"/></linearGradient>
<linearGradient id="ghandle" x1="0" y1="0" x2="1" y2="1"><stop offset="0" stop-color="#f8e060"/><stop offset="1" stop-color="#d8a810"/></linearGradient>
<linearGradient id="gclock" x1="0" y1="0" x2="0" y2="1"><stop offset="0" stop-color="#2a8cf0"/><stop offset="1" stop-color="#0a4aa0"/></linearGradient>
<linearGradient id="gbadge" x1="0" y1="0" x2="0" y2="1"><stop offset="0" stop-color="#ec5a38"/><stop offset="1" stop-color="#d41c0c"/></linearGradient>
<linearGradient id="gtpl" x1="0" y1="0" x2="0" y2="1"><stop offset="0" stop-color="#7ab4f0"/><stop offset="1" stop-color="#2a6ac0"/></linearGradient>
<radialGradient id="gstop" cx="0.4" cy="0.35" r="0.7"><stop offset="0" stop-color="#ff4020"/><stop offset="1" stop-color="#c01800"/></radialGradient>
<linearGradient id="ghat" x1="0" y1="0" x2="0" y2="1"><stop offset="0" stop-color="#7cc8f0"/><stop offset="1" stop-color="#3a9cd8"/></linearGradient>
<linearGradient id="gface" x1="0" y1="0" x2="1" y2="1"><stop offset="0" stop-color="#f8d840"/><stop offset="1" stop-color="#ffff80"/></linearGradient>
<radialGradient id="gsig" gradientUnits="userSpaceOnUse" cx="0" cy="0" r="8"><stop offset="0" stop-color="#ffffff" stop-opacity="0.2"/><stop offset="0.55" stop-color="#c8e8c8" stop-opacity="0.7"/><stop offset="1" stop-color="#58b058" stop-opacity="0.9"/></radialGradient>
</defs>
<rect x="5" y="2" width="1" height="21" fill="#a0a0a0" shape-rendering="crispEdges"/>
<g transform="translate(15,5)"><path d="M0.6 0.6H8.4L11.4 3.6V13.4H0.6Z" fill="#fff" stroke="#808080" stroke-width="1"/><path d="M8.4 0.6V3.6H11.4" fill="none" stroke="#808080" stroke-width="1"/>
<rect x="2.2" y="2.2" width="2.6" height="1.6" fill="#808080"/><path d="M2.2 6.4H9.6M2.2 8.4H7M2.2 10.5H5" stroke="#808080" stroke-width="1"/>
<path d="M8.2 6.3H11.6V10.5H15.6V13.7H11.6V17.5H8.2V13.7H4.2V10.5H8.2Z" fill="url(#gplus)" stroke="#0a8a0a" stroke-width="0.9" stroke-linejoin="round"/></g>
<text x="33.6" y="16.1" font-family="Liberation Sans, Noto Sans CJK SC, sans-serif" font-size="12.25" fill="#000" stroke="#000" stroke-width="0.24" text-anchor="start" textLength="36.75" lengthAdjust="spacingAndGlyphs">新订单</text>
<path d="M87.5 6.2C86.9 9.4 85 12.4 82.1 14.7L89.8 20.7 97.9 14.3Z" fill="#b87c10" stroke="#9a6208" stroke-width="0.9" stroke-linejoin="round"/><path d="M82.9 14.9L89.8 20 97 14.4 96.2 13.4 90.2 18.2 83.6 13.7Z" fill="#ecd070"/><path d="M90.6 19.3L97.1 14.3" stroke="#fff6d8" stroke-width="0.7"/><path d="M90.2 18.5L96.4 13.6" stroke="#a87010" stroke-width="0.6"/><path d="M87.7 6.7C87.1 9.6 85.6 12 83.5 13.6L90.2 18.2 96.3 13.3Z" fill="url(#gbook)" stroke="#b07810" stroke-width="0.5"/>
<path d="M111.8 5.4H121L123.2 7V14.5H111.8Z" fill="url(#gbox)"/><path d="M112.4 5.8L115.2 7.6V14M115.2 7.6H123" stroke="#d8f0ff" stroke-width="0.7" fill="none"/><path d="M116.8 10.2H121.6" stroke="#e8f6ff" stroke-width="1"/><path d="M112.6 20.2C110 20.2 109.6 16.6 112.6 16.2 113 14.4 115.4 14.2 116 15.2 117.4 12.6 121 13 121.6 15.4 123.4 14.4 125.8 15.6 125.4 17.6 126.6 18.6 125.6 20.2 124 20.2Z" fill="url(#gcloud)" stroke="#4a68a4" stroke-width="0.9"/>
<g transform="translate(145.9,12.9)"><path d="M0 0L0.9 7.8A7.8 7.8 0 0 0 2 -7.5Z" fill="url(#gsig)"/><path d="M0.9 7.2A7.2 7.2 0 0 1 0 -7.2" fill="none" stroke="#5a80dc" stroke-width="1.3" opacity="0.55"/><path d="M0.6 4.4A4.4 4.4 0 0 1 0 -4.4" fill="none" stroke="#5a80dc" stroke-width="1.3" opacity="0.55"/><path d="M0 -7.2A7.2 7.2 0 0 1 0.9 7.2" fill="none" stroke="#4a9a6a" stroke-width="1.2" opacity="0.6"/><path d="M0 -4.4A4.4 4.4 0 0 1 0.6 4.4" fill="none" stroke="#6ab07a" stroke-width="1.1" opacity="0.55"/><circle r="1.9" fill="#2858d8"/><path d="M0.8 0.4V7.8" stroke="#18a018" stroke-width="1.5"/></g>
<path d="M165.6 12.2L180.8 11.2 172.6 20.4Z" fill="url(#gface)" stroke="#d0a010" stroke-width="0.8" stroke-linejoin="round"/><path d="M165.4 10.4C165 8.6 167.4 8 169 9 171 10.2 175 10 177 8.6 178.8 7.4 181.4 7.8 180.9 9.8 180.2 12.2 175.4 13.2 172.6 13 169 12.8 165.8 12.2 165.4 10.4Z" fill="url(#ghat)" stroke="#1a7cac" stroke-width="0.8"/><path d="M169.1 9.6C169 6.6 170.4 5.3 172.8 5.3 175.2 5.3 176.6 6.6 176.9 9C175 10.4 171 10.6 169.1 9.6Z" fill="url(#ghat)" stroke="#1a7cac" stroke-width="0.8"/><circle cx="177.5" cy="16.4" r="4" fill="url(#gstop)"/><rect x="176" y="14.9" width="3" height="3" fill="#fff"/>
<text x="185.9" y="15.9" font-family="Liberation Sans, Noto Sans CJK SC, sans-serif" font-size="12" fill="#000" stroke="#000" stroke-width="0.24" text-anchor="start" textLength="48" lengthAdjust="spacingAndGlyphs">自动交易</text>
<rect x="241" y="0" width="1" height="25" fill="#a0a0a0" shape-rendering="crispEdges"/><rect x="242" y="0" width="1" height="25" fill="#ffffff" shape-rendering="crispEdges"/>
<g shape-rendering="crispEdges" fill="#a2a2a2"><rect x="245" y="3" width="3" height="1"/><rect x="245" y="5" width="3" height="1"/><rect x="245" y="7" width="3" height="1"/><rect x="245" y="9" width="3" height="1"/><rect x="245" y="11" width="3" height="1"/><rect x="245" y="13" width="3" height="1"/><rect x="245" y="15" width="3" height="1"/><rect x="245" y="17" width="3" height="1"/><rect x="245" y="19" width="3" height="1"/><rect x="245" y="21" width="3" height="1"/></g>
<g transform="translate(257,5)"><path d="M2.4 15.8V3.5M0 13.5H12.5" stroke="#555" stroke-width="1.15" fill="none"/><path d="M2.4 2L0.7 4.6H4.1ZM14 13.5L11.4 11.8V15.2Z" fill="#555"/></g>
<path d="M265.6 8V17M265.6 9.5H268.2M263 15.6H265.6" stroke="#1a8a1a" stroke-width="1.3" fill="none"/>
<g shape-rendering="crispEdges"><rect x="279" y="1" width="26" height="23" fill="url(#chk)"/><rect x="279" y="1" width="25" height="1" fill="#a0a0a0"/><rect x="279" y="1" width="1" height="22" fill="#a0a0a0"/><rect x="304" y="1" width="1" height="23" fill="#ffffff"/><rect x="279" y="23" width="26" height="1" fill="#ffffff"/></g>
<g transform="translate(285.1,5)"><path d="M2.4 15.8V3.5M0 13.5H12.5" stroke="#555" stroke-width="1.15" fill="none"/><path d="M2.4 2L0.7 4.6H4.1ZM14 13.5L11.4 11.8V15.2Z" fill="#555"/></g>
<path d="M293.5 5.1V16.7" stroke="#0a8a0a" stroke-width="1.2"/><rect x="291.3" y="7.3" width="4.5" height="7.2" fill="url(#gcandle)" stroke="#0a8a0a" stroke-width="0.9"/>
<g transform="translate(313.1,5)"><path d="M2.4 15.8V3.5M0 13.5H12.5" stroke="#555" stroke-width="1.15" fill="none"/><path d="M2.4 2L0.7 4.6H4.1ZM14 13.5L11.4 11.8V15.2Z" fill="#555"/></g>
<path d="M314.2 15.6C317 14 318.4 10.2 320.4 10.2 322.4 10.2 323.6 13.4 325.8 14" stroke="#2a8a2a" stroke-width="1.1" fill="none"/>
<rect x="336" y="2" width="1" height="21" fill="#a0a0a0" shape-rendering="crispEdges"/>
<g transform="translate(351.05,11.05)"><path d="M3.6 3.4L9.4 8.8" stroke="#a87810" stroke-width="3.4" stroke-linecap="butt"/><path d="M4 3.8L9 8.4" stroke="url(#ghandle)" stroke-width="2"/><path d="M4 3.8L9 8.4" stroke="#f0d040" stroke-width="1.8"/><circle r="5.5" fill="#d4eefc" stroke="#3a7cc8" stroke-width="1.1"/><path d="M-3.4 0H3.4M0 -3.4V3.4" stroke="#3a84ac" stroke-width="1.9"/></g>
<g transform="translate(379.2,11.05)"><path d="M3.6 3.4L9.4 8.8" stroke="#a87810" stroke-width="3.4" stroke-linecap="butt"/><path d="M4 3.8L9 8.4" stroke="url(#ghandle)" stroke-width="2"/><path d="M4 3.8L9 8.4" stroke="#f0d040" stroke-width="1.8"/><circle r="5.5" fill="#d4eefc" stroke="#3a7cc8" stroke-width="1.1"/><path d="M-3.4 0H3.4" stroke="#3a84ac" stroke-width="1.9"/></g>
<g transform="translate(401.1,5.1)"><rect width="8" height="7.9" fill="#2f9a12"/><rect x="1" y="1" width="1" height="1" fill="#dfe8ff"/><path d="M1.4 3H6.6V6.6H5.6V5.8H2.4V6.6H1.4Z" fill="#fff"/><path d="M2.4 4.3H5.6" stroke="#9ad080" stroke-width="0.8"/></g>
<g transform="translate(409.1,5.1)"><rect width="8" height="7.9" fill="#1c50d4"/><rect x="1" y="1" width="1" height="1" fill="#dfe8ff"/><path d="M1.4 3H6.6V6.6H5.6V5.8H2.4V6.6H1.4Z" fill="#fff"/><path d="M2.4 4.3H5.6" stroke="#90a8f0" stroke-width="0.8"/></g>
<g transform="translate(401.1,13)"><rect width="8" height="7.9" fill="#1c50d4"/><rect x="1" y="1" width="1" height="1" fill="#dfe8ff"/><path d="M1.4 3H6.6V6.6H5.6V5.8H2.4V6.6H1.4Z" fill="#fff"/><path d="M2.4 4.3H5.6" stroke="#90a8f0" stroke-width="0.8"/></g>
<g transform="translate(409.1,13)"><rect width="8" height="7.9" fill="#2f9a12"/><rect x="1" y="1" width="1" height="1" fill="#dfe8ff"/><path d="M1.4 3H6.6V6.6H5.6V5.8H2.4V6.6H1.4Z" fill="#fff"/><path d="M2.4 4.3H5.6" stroke="#9ad080" stroke-width="0.8"/></g>
<rect x="426" y="2" width="1" height="21" fill="#a0a0a0" shape-rendering="crispEdges"/>
<g shape-rendering="crispEdges"><rect x="431" y="1" width="26" height="23" fill="url(#chk)"/><rect x="431" y="1" width="25" height="1" fill="#a0a0a0"/><rect x="431" y="1" width="1" height="22" fill="#a0a0a0"/><rect x="456" y="1" width="1" height="23" fill="#ffffff"/><rect x="431" y="23" width="26" height="1" fill="#ffffff"/></g>
<g transform="translate(437.1,5)"><path d="M2.4 15.8V3.5M0 13.5H12.5" stroke="#555" stroke-width="1.15" fill="none"/><path d="M2.4 2L0.7 4.6H4.1ZM14 13.5L11.4 11.8V15.2Z" fill="#555"/></g>
<path d="M444.2 9.2L447.8 12.6 444.2 16Z" fill="#70e070" stroke="#0a900a" stroke-width="0.9" stroke-linejoin="round"/>
<g shape-rendering="crispEdges"><rect x="459" y="1" width="26" height="23" fill="url(#chk)"/><rect x="459" y="1" width="25" height="1" fill="#a0a0a0"/><rect x="459" y="1" width="1" height="22" fill="#a0a0a0"/><rect x="484" y="1" width="1" height="23" fill="#ffffff"/><rect x="459" y="23" width="26" height="1" fill="#ffffff"/></g>
<g transform="translate(465.2,5)"><path d="M2.4 15.8V3.5M0 13.5H12.5" stroke="#555" stroke-width="1.15" fill="none"/><path d="M2.4 2L0.7 4.6H4.1ZM14 13.5L11.4 11.8V15.2Z" fill="#555"/></g>
<path d="M473.5 6.9V16.9" stroke="#1a6aa0" stroke-width="1.2"/><path d="M474.6 12.5H479" stroke="#e04000" stroke-width="0.9"/><path d="M474.3 12.5L476.9 10.7 476.3 12.5 476.9 14.3Z" fill="#e04000" stroke="#e04000" stroke-width="0.4"/>
<rect x="488" y="2" width="1" height="21" fill="#a0a0a0" shape-rendering="crispEdges"/>
<g transform="translate(498,5.1)"><path d="M0.6 0.6H8.4L11.4 3.6V13.4H0.6Z" fill="#fff" stroke="#808080" stroke-width="1"/><path d="M8.4 0.6V3.6H11.4" fill="none" stroke="#808080" stroke-width="1"/>
<path d="M5.6 3.2C4.2 2.8 3.6 3.6 3.6 5V11M2.4 6.6H5.4" fill="none" stroke="#4a4030" stroke-width="0.9"/>
<path d="M8.2 6.3H11.6V10.5H15.6V13.7H11.6V17.5H8.2V13.7H4.2V10.5H8.2Z" fill="url(#gplus)" stroke="#0a8a0a" stroke-width="0.9" stroke-linejoin="round"/></g>
<polygon points="519.8,12 525.1999999999999,12 522.5,15" fill="#000"/>
<g transform="translate(544.1,12.85)"><circle r="6.7" fill="#f4f4f4" stroke="url(#gclock)" stroke-width="2.7"/><path d="M-0.6 -3.8V0.2H2.6" stroke="#333" stroke-width="0.8" fill="none"/><g fill="#888"><circle cx="0" cy="-4.8" r="0.35"/><circle cx="4.8" cy="0" r="0.35"/><circle cx="-4.8" cy="0" r="0.35"/><circle cx="2.4" cy="-4.1" r="0.3"/><circle cx="-2.4" cy="-4.1" r="0.3"/><circle cx="-4.1" cy="2.4" r="0.3"/><circle cx="4.1" cy="2.4" r="0.3"/><circle cx="-2.4" cy="4.1" r="0.3"/><circle cx="2.4" cy="4.1" r="0.3"/></g><path d="M-0.9 3.2H0.9" stroke="#6aa8f0" stroke-width="0.7"/></g>
<polygon points="558.8,12 564.1999999999999,12 561.5,15" fill="#000"/>
<g transform="translate(575.1,6.1)"><rect width="15.7" height="13.8" rx="0.6" fill="url(#gtpl)"/><rect x="0.4" y="0.4" width="14.9" height="13" fill="none" stroke="#2a66bc" stroke-width="0.8"/><rect x="1" y="2.9" width="13.7" height="5" fill="#fff"/><rect x="1" y="8.7" width="13.7" height="4.1" fill="#fff"/><path d="M2 6.4H4.4L5.6 5.2H6.8L7.8 4.2H8.8L9.8 5.4H11.6L12.6 4.3H13.8" stroke="#8a2000" stroke-width="1" fill="none"/><path d="M2.8 11.2H4.6L5.8 10.4H6.6L7.6 11.2H8.8L10.8 9.2H11.6L13.6 11.4" stroke="#0a8a20" stroke-width="1" fill="none"/></g>
<polygon points="597.8,12 603.1999999999999,12 600.5,15" fill="#000"/>
<rect x="609" y="0" width="1" height="25" fill="#a0a0a0" shape-rendering="crispEdges"/><rect x="610" y="0" width="1" height="25" fill="#ffffff" shape-rendering="crispEdges"/>
<g shape-rendering="crispEdges" fill="#a2a2a2"><rect x="613" y="3" width="3" height="1"/><rect x="613" y="5" width="3" height="1"/><rect x="613" y="7" width="3" height="1"/><rect x="613" y="9" width="3" height="1"/><rect x="613" y="11" width="3" height="1"/><rect x="613" y="13" width="3" height="1"/><rect x="613" y="15" width="3" height="1"/><rect x="613" y="17" width="3" height="1"/><rect x="613" y="19" width="3" height="1"/><rect x="613" y="21" width="3" height="1"/></g>
<g shape-rendering="crispEdges"><rect x="619" y="1" width="26" height="23" fill="url(#chk)"/><rect x="619" y="1" width="25" height="1" fill="#a0a0a0"/><rect x="619" y="1" width="1" height="22" fill="#a0a0a0"/><rect x="644" y="1" width="1" height="23" fill="#ffffff"/><rect x="619" y="23" width="26" height="1" fill="#ffffff"/></g>
<path d="M627.2 5.9V16.6L629.6 14.3 631.9 19.6 633.6 18.8 631.3 13.7H634.9Z" fill="#4d4d4d"/>
<path d="M652.2 13.5H658.4M660.6 13.5H666.8M659.5 6.1V12.4M659.5 14.6V20.7" stroke="#555" stroke-width="1.15"/>
<rect x="676" y="2" width="1" height="21" fill="#a0a0a0" shape-rendering="crispEdges"/>
<path d="M693.5 7.3V19.7" stroke="#555" stroke-width="1.2"/>
<path d="M716 13.5H728" stroke="#555" stroke-width="1.15"/>
<path d="M743.8 20L756 7.8" stroke="#555" stroke-width="1.15"/>
<g stroke="#444" fill="none" stroke-width="0.95"><path d="M769.5 15.1L778.6 7M775.1 19.6L784.6 11.1"/><path d="M771.5 19.1L774.1 11.1M775.6 17.1L778.1 8.5M780 13.8L782.1 5"/><path d="M770.6 17.8L772.6 18.4M773.4 12.4L775 12.8M774.8 15.8L776.8 16.4M777.4 10L779 10.4M779.2 12.4L781.2 13M781.4 6.4L783 6.8" stroke-width="0.7"/></g>
<path d="M781.5 17.3V21.5M781 17.7H785M781.5 19.4H784.4M781 21.1H785" stroke="#333" stroke-width="0.9" fill="none"/>
<g fill="#555"><circle cx="799.60" cy="6.4" r="0.58"/><circle cx="801.42" cy="6.4" r="0.58"/><circle cx="803.24" cy="6.4" r="0.58"/><circle cx="805.06" cy="6.4" r="0.58"/><circle cx="806.88" cy="6.4" r="0.58"/><circle cx="808.70" cy="6.4" r="0.58"/><circle cx="810.52" cy="6.4" r="0.58"/><circle cx="812.34" cy="6.4" r="0.58"/><circle cx="799.60" cy="9.5" r="0.58"/><circle cx="801.42" cy="9.5" r="0.58"/><circle cx="803.24" cy="9.5" r="0.58"/><circle cx="805.06" cy="9.5" r="0.58"/><circle cx="806.88" cy="9.5" r="0.58"/><circle cx="808.70" cy="9.5" r="0.58"/><circle cx="810.52" cy="9.5" r="0.58"/><circle cx="812.34" cy="9.5" r="0.58"/><circle cx="799.60" cy="13.5" r="0.58"/><circle cx="801.42" cy="13.5" r="0.58"/><circle cx="803.24" cy="13.5" r="0.58"/><circle cx="805.06" cy="13.5" r="0.58"/><circle cx="806.88" cy="13.5" r="0.58"/><circle cx="808.70" cy="13.5" r="0.58"/><circle cx="810.52" cy="13.5" r="0.58"/><circle cx="812.34" cy="13.5" r="0.58"/><circle cx="799.60" cy="17.5" r="0.58"/><circle cx="801.42" cy="17.5" r="0.58"/><circle cx="803.24" cy="17.5" r="0.58"/><circle cx="805.06" cy="17.5" r="0.58"/><circle cx="806.88" cy="17.5" r="0.58"/></g>
<path d="M809.4 17.3V21.7M808.9 17.7H813M809.4 19.6H812.4" stroke="#333" stroke-width="0.9" fill="none"/>
<text x="829.7" y="17.9" font-family="Liberation Sans, sans-serif" font-size="12.2" fill="#4d4d4d" stroke="#4d4d4d" stroke-width="0.29" text-anchor="start" textLength="7.8" lengthAdjust="spacingAndGlyphs">A</text>
<g fill="#555" shape-rendering="crispEdges"><rect x="859" y="7" width="1" height="1"/><rect x="861" y="7" width="1" height="1"/><rect x="863" y="7" width="1" height="1"/><rect x="865" y="7" width="1" height="1"/><rect x="867" y="7" width="1" height="1"/><rect x="867" y="9" width="1" height="1"/><rect x="867" y="11" width="1" height="1"/><rect x="867" y="13" width="1" height="1"/><rect x="867" y="15" width="1" height="1"/><rect x="867" y="17" width="1" height="1"/><rect x="856" y="9" width="1" height="1"/><rect x="856" y="11" width="1" height="1"/><rect x="856" y="13" width="1" height="1"/><rect x="856" y="15" width="1" height="1"/><rect x="856" y="17" width="1" height="1"/><rect x="856" y="19" width="1" height="1"/><rect x="858" y="19" width="1" height="1"/><rect x="860" y="19" width="1" height="1"/><rect x="862" y="19" width="1" height="1"/><rect x="864" y="19" width="1" height="1"/><rect x="866" y="19" width="1" height="1"/><rect x="855" y="6" width="2" height="2"/></g><path d="M858 10.4H865.8M861.95 10.4V17.7" stroke="#555" stroke-width="1.3"/>
<path d="M886.4 7L883 10.5H884.8V11.7H888V10.5H889.8Z" fill="#555"/><path d="M893.4 20L890 16.4H891.8V15.3H895V16.4H896.9Z" fill="#555"/><path d="M885.4 14.3L887.7 16.6 891.9 11.5" stroke="#555" stroke-width="1.2" fill="none"/>
<polygon points="903.8,12 909.1999999999999,12 906.5,15" fill="#000"/>
<rect x="915" y="0" width="1" height="25" fill="#a0a0a0" shape-rendering="crispEdges"/><rect x="916" y="0" width="1" height="25" fill="#ffffff" shape-rendering="crispEdges"/>
<g shape-rendering="crispEdges" fill="#a2a2a2"><rect x="919" y="3" width="3" height="1"/><rect x="919" y="5" width="3" height="1"/><rect x="919" y="7" width="3" height="1"/><rect x="919" y="9" width="3" height="1"/><rect x="919" y="11" width="3" height="1"/><rect x="919" y="13" width="3" height="1"/><rect x="919" y="15" width="3" height="1"/><rect x="919" y="17" width="3" height="1"/><rect x="919" y="19" width="3" height="1"/><rect x="919" y="21" width="3" height="1"/></g>
<g shape-rendering="crispEdges"><rect x="1065" y="1" width="26" height="23" fill="url(#chk)"/><rect x="1065" y="1" width="25" height="1" fill="#a0a0a0"/><rect x="1065" y="1" width="1" height="22" fill="#a0a0a0"/><rect x="1090" y="1" width="1" height="23" fill="#ffffff"/><rect x="1065" y="23" width="26" height="1" fill="#ffffff"/></g>
<text x="930.8" y="16.6" font-family="Liberation Sans, sans-serif" font-size="9" fill="#3a3a3a" stroke="#3a3a3a" stroke-width="0.15" text-anchor="start" textLength="12.4" lengthAdjust="spacingAndGlyphs">M1</text>
<text x="959.1" y="16.6" font-family="Liberation Sans, sans-serif" font-size="9" fill="#3a3a3a" stroke="#3a3a3a" stroke-width="0.15" text-anchor="start" textLength="12.3" lengthAdjust="spacingAndGlyphs">M5</text>
<text x="984.8" y="16.6" font-family="Liberation Sans, sans-serif" font-size="9" fill="#3a3a3a" stroke="#3a3a3a" stroke-width="0.15" text-anchor="start" textLength="17.6" lengthAdjust="spacingAndGlyphs">M15</text>
<text x="1012.8" y="16.6" font-family="Liberation Sans, sans-serif" font-size="9" fill="#3a3a3a" stroke="#3a3a3a" stroke-width="0.15" text-anchor="start" textLength="18" lengthAdjust="spacingAndGlyphs">M30</text>
<text x="1043.7" y="16.6" font-family="Liberation Sans, sans-serif" font-size="9" fill="#3a3a3a" stroke="#3a3a3a" stroke-width="0.15" text-anchor="start" textLength="12.1" lengthAdjust="spacingAndGlyphs">H1</text>
<text x="1070.9" y="16.6" font-family="Liberation Sans, sans-serif" font-size="9" fill="#3a3a3a" stroke="#3a3a3a" stroke-width="0.15" text-anchor="start" textLength="12.3" lengthAdjust="spacingAndGlyphs">H4</text>
<text x="1099.7" y="16.6" font-family="Liberation Sans, sans-serif" font-size="9" fill="#3a3a3a" stroke="#3a3a3a" stroke-width="0.15" text-anchor="start" textLength="11.6" lengthAdjust="spacingAndGlyphs">D1</text>
<text x="1126.7" y="16.6" font-family="Liberation Sans, sans-serif" font-size="9" fill="#3a3a3a" stroke="#3a3a3a" stroke-width="0.15" text-anchor="start" textLength="14.8" lengthAdjust="spacingAndGlyphs">W1</text>
<text x="1154.1" y="16.6" font-family="Liberation Sans, sans-serif" font-size="9" fill="#3a3a3a" stroke="#3a3a3a" stroke-width="0.15" text-anchor="start" textLength="13.7" lengthAdjust="spacingAndGlyphs">MN</text>
<rect x="1176" y="0" width="1" height="25" fill="#a0a0a0" shape-rendering="crispEdges"/>
<circle cx="1646.5" cy="10.4" r="3.7" fill="none" stroke="#2a5cd0" stroke-width="1.2"/><path d="M1643.8 13.2L1639.2 17.8" stroke="#2a5cd0" stroke-width="2.4" stroke-linecap="round"/>
<path d="M1664 15.6C1664 12.4 1666.4 10.6 1669.6 10.6 1672.8 10.6 1675 12.6 1675 15.2 1675 17.8 1672.6 19.2 1669.6 19.2L1666.6 21.4 1667 18.8C1665 18.2 1664 17 1664 15.6Z" fill="#e4e6ea" stroke="#b0b2b8" stroke-width="0.8"/>
<circle cx="1677.6" cy="10.4" r="8" fill="url(#gbadge)"/><text x="1677.7" y="14.9" font-family="Liberation Sans, sans-serif" font-size="12" font-weight="bold" fill="#fff" text-anchor="middle" textLength="5.6" lengthAdjust="spacingAndGlyphs">1</text>
</svg>
</body></html>
